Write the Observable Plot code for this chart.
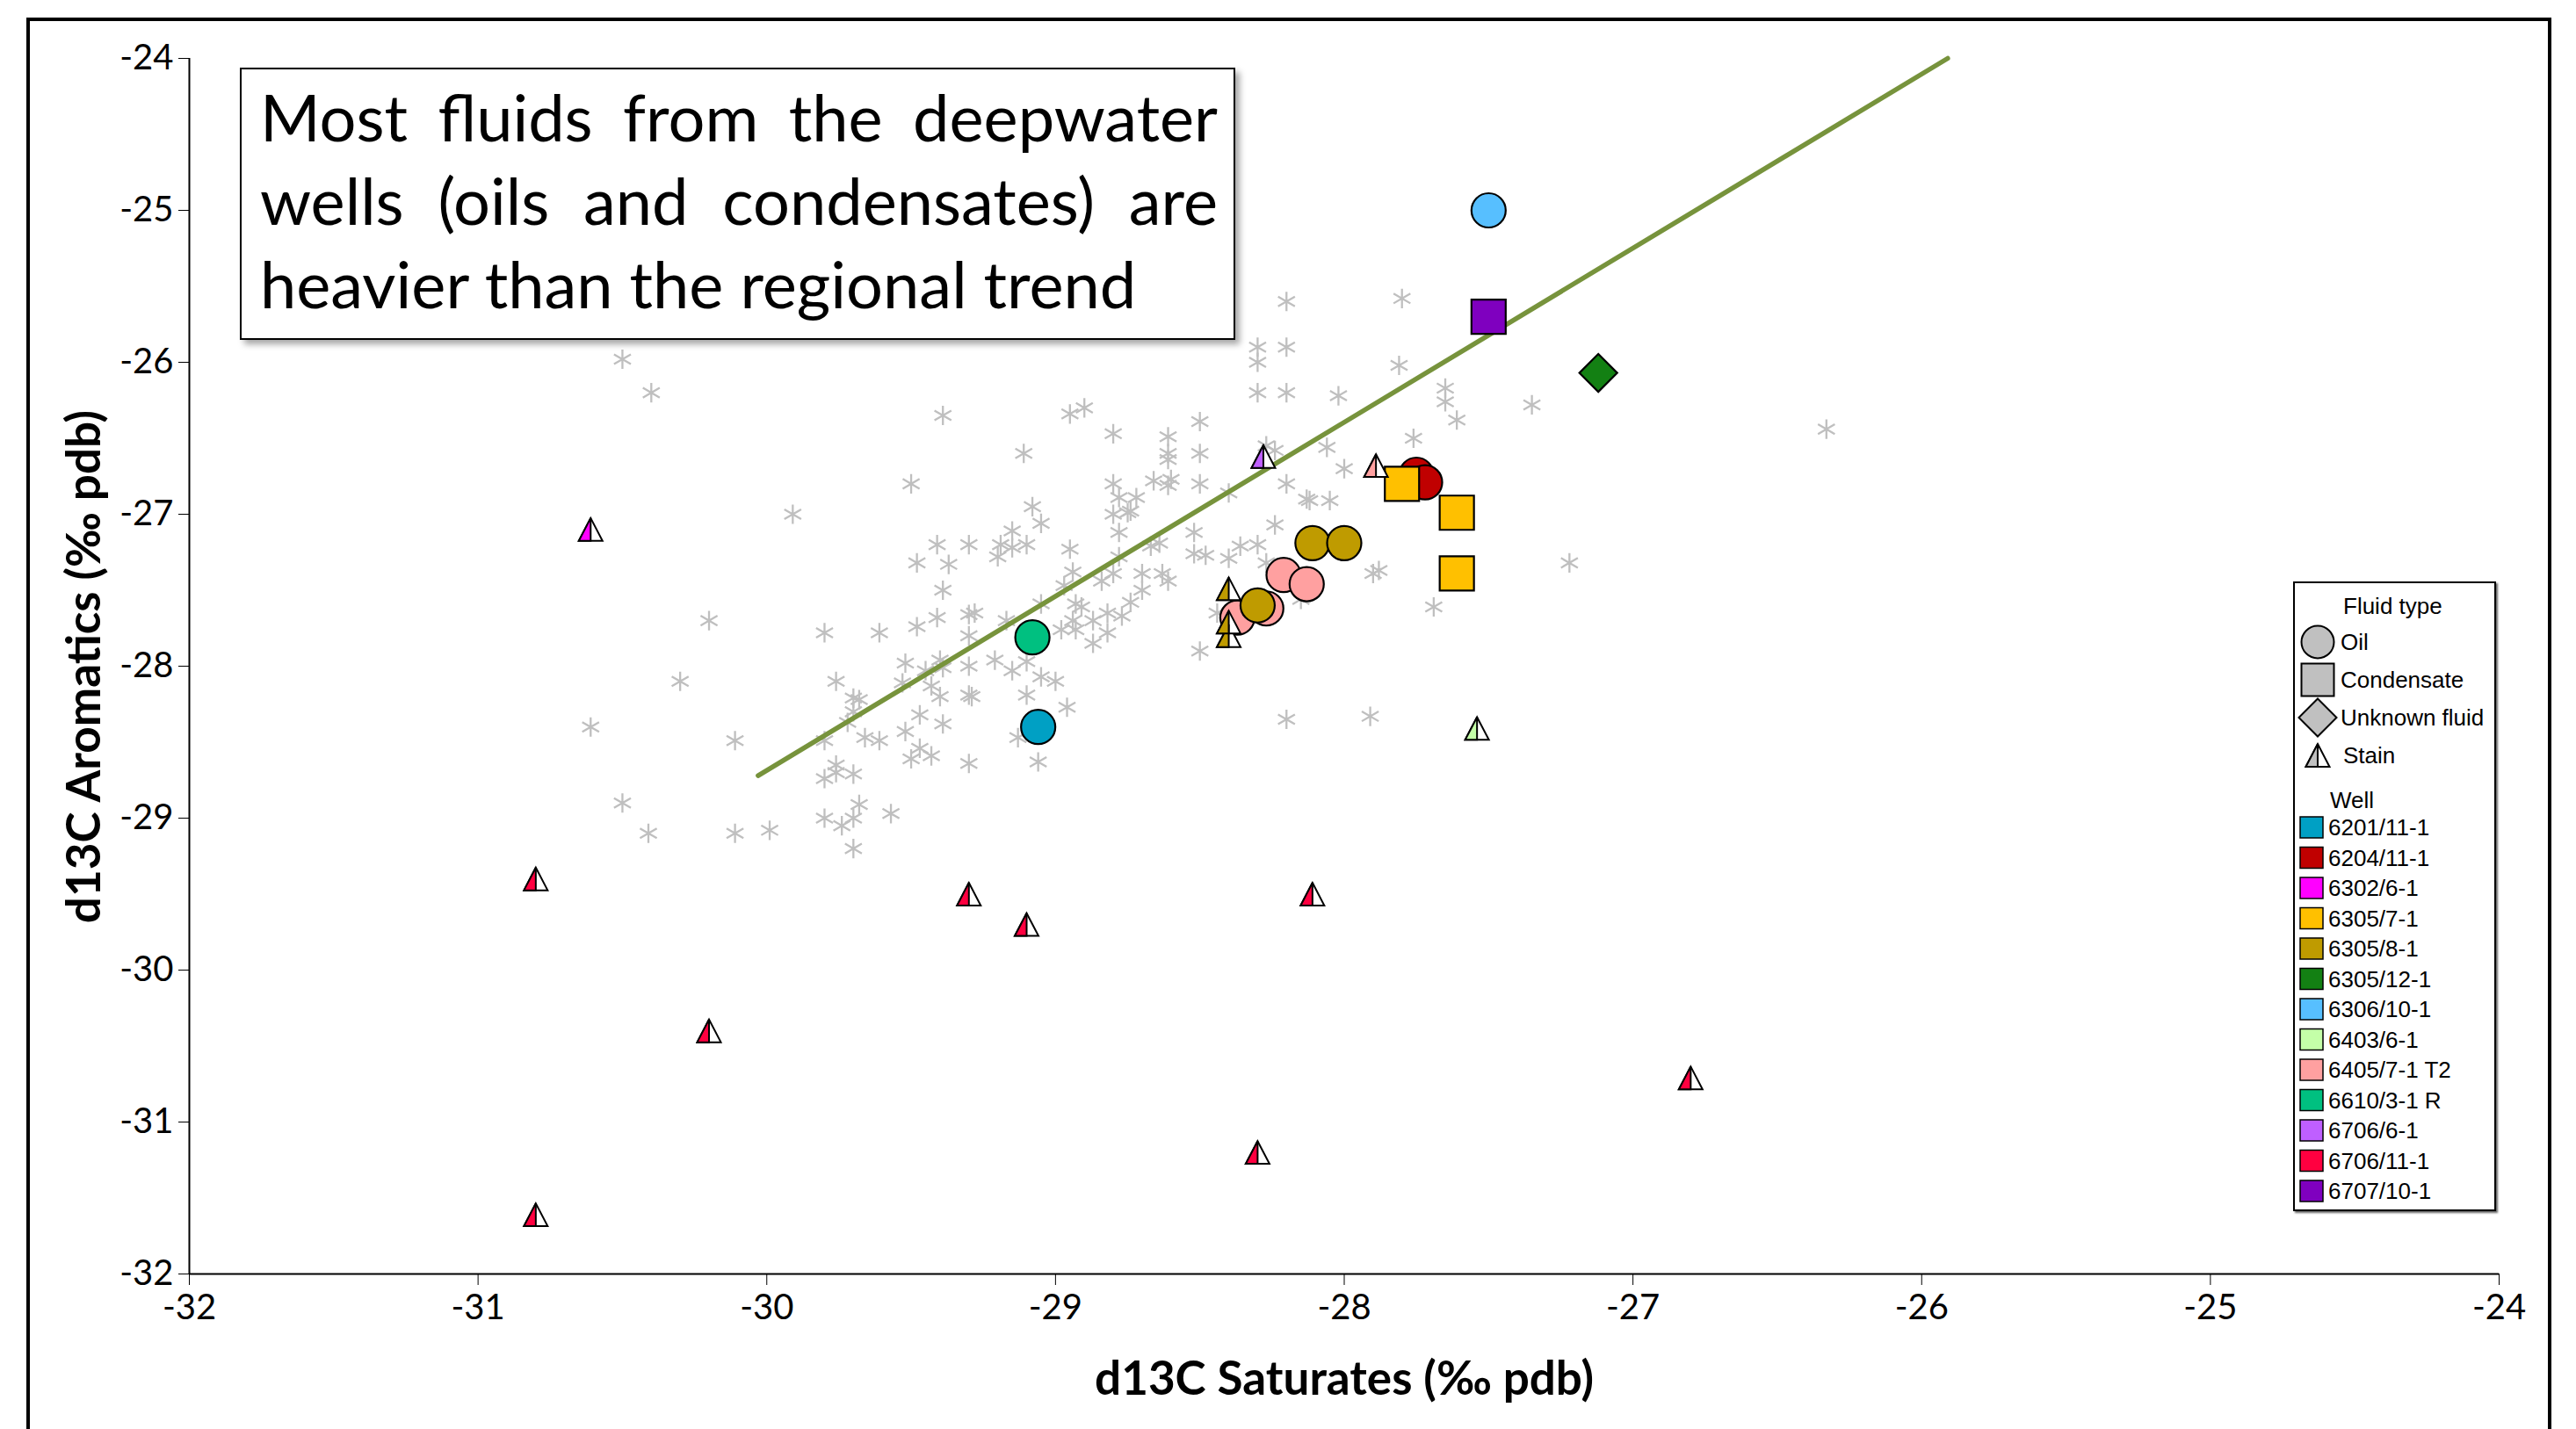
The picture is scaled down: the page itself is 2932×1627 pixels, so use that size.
<!DOCTYPE html>
<html>
<head>
<meta charset="utf-8">
<script src="https://cdn.jsdelivr.net/npm/d3@7"></script>
<script src="https://cdn.jsdelivr.net/npm/@observablehq/plot@0.6"></script>
<style>
  html, body { margin: 0; padding: 0; background: #fff; }
  body { width: 2932px; height: 1627px; position: relative; overflow: hidden; }
  #chart { position: absolute; left: 0; top: 0; }
  #frame {
    position: absolute; left: 30px; top: 20px; width: 2874px; height: 1720px;
    box-sizing: border-box; border: 4px solid #000; pointer-events: none;
  }
  #note {
    position: absolute; left: 273px; top: 77px; width: 1133px; height: 310px;
    box-sizing: border-box; border: 2.5px solid #000; background: #fff;
    box-shadow: 5px 5px 7px rgba(0,0,0,0.35);
    padding: 6px 18px 0 21px;
    font-family: Lato, "Open Sans", sans-serif; font-size: 74px; line-height: 95px; color: #000;
  }
  #note .j { text-align: justify; text-align-last: justify; white-space: nowrap; }
  #note .l { white-space: nowrap; }
  .axis-title {
    position: absolute; font-family: Lato, "Open Sans", sans-serif; font-weight: 700;
    font-size: 53px; color: #000; white-space: nowrap; transform: translate(-50%, -50%);
  }
  #legend {
    position: absolute; left: 2610px; top: 662px; width: 231px; height: 717px;
    box-sizing: border-box; border: 2px solid #000; background: #fff;
    box-shadow: 2px 2px 2px rgba(0,0,0,0.6);
  }
  #legend svg { position: absolute; left: -2px; top: -2px; overflow: visible; }
  #legend text { font-family: "Liberation Sans", Arial, sans-serif; font-size: 26px; fill: #000; }
</style>
</head>
<body>
<div id="chart"></div>
<div id="note">
  <div class="j">Most fluids from the deepwater</div>
  <div class="j">wells (oils and condensates) are</div>
  <div class="l">heavier than the regional trend</div>
</div>
<div class="axis-title" style="left:1530px; top:1567px;">d13C Saturates (‰ pdb)</div>
<div class="axis-title" style="left:93px; top:759px; transform: translate(-50%, -50%) rotate(-90deg);">d13C Aromatics (‰ pdb)</div>
<div id="legend"></div>
<div id="frame"></div>
<script>
// Axes
const xTicks = [-32, -31, -30, -29, -28, -27, -26, -25, -24];
const yTicks = [-32, -31, -30, -29, -28, -27, -26, -25, -24];

// Wells and their colours
const wellNames = ["6201/11-1", "6204/11-1", "6302/6-1", "6305/7-1", "6305/8-1", "6305/12-1",
  "6306/10-1", "6403/6-1", "6405/7-1 T2", "6610/3-1 R", "6706/6-1", "6706/11-1", "6707/10-1"];
const wellColors = ["#00A0C4", "#C00000", "#FF00FF", "#FFC000", "#BF9B00", "#138013",
  "#57BFFF", "#C4FFA8", "#FFA0A0", "#00C080", "#BF5FFF", "#FF0040", "#7F00BF"];
const fluidTypes = ["Oil", "Condensate", "Unknown fluid", "Stain"];

// Deepwater well fluids (drawing order)
const sampleWell = [
  "6201/11-1", "6204/11-1", "6204/11-1", "6306/10-1",
  "6405/7-1 T2", "6405/7-1 T2", "6405/7-1 T2", "6405/7-1 T2",
  "6305/8-1", "6305/8-1", "6305/8-1", "6610/3-1 R",
  "6305/7-1", "6305/7-1", "6305/7-1", "6707/10-1",
  "6305/12-1",
  "6302/6-1", "6305/8-1", "6305/8-1", "6305/8-1", "6403/6-1", "6405/7-1 T2", "6706/6-1",
  "6706/11-1", "6706/11-1", "6706/11-1", "6706/11-1", "6706/11-1", "6706/11-1", "6706/11-1", "6706/11-1"];
const sampleType = [
  "Oil", "Oil", "Oil", "Oil",
  "Oil", "Oil", "Oil", "Oil",
  "Oil", "Oil", "Oil", "Oil",
  "Condensate", "Condensate", "Condensate", "Condensate",
  "Unknown fluid",
  "Stain", "Stain", "Stain", "Stain", "Stain", "Stain", "Stain",
  "Stain", "Stain", "Stain", "Stain", "Stain", "Stain", "Stain", "Stain"];
const sampleSat = [
  -29.06, -27.75, -27.72, -27.50,
  -28.37, -28.27, -28.21, -28.13,
  -28.30, -28.11, -28.00, -29.08,
  -27.80, -27.61, -27.61, -27.50,
  -27.12,
  -30.61, -28.40, -28.40, -28.40, -27.54, -27.89, -28.28,
  -30.80, -29.30, -28.11, -29.10, -30.20, -26.80, -28.30, -30.80];
const sampleAro = [
  -28.40, -26.74, -26.79, -25.00,
  -27.68, -27.62, -27.40, -27.46,
  -27.60, -27.19, -27.19, -27.81,
  -26.80, -26.99, -27.39, -25.70,
  -26.07,
  -27.10, -27.80, -27.71, -27.49, -28.41, -26.68, -26.62,
  -29.40, -29.50, -29.50, -29.70, -30.40, -30.71, -31.20, -31.61];

// Regional dataset (grey asterisks)
const regionalSat = [
  -30.50, -30.40, -29.39, -29.50, -29.91, -29.11, -29.15, -29.41, -29.30, -29.19,
  -29.15, -29.20, -29.48, -29.37, -29.39, -29.41, -29.48, -29.61, -29.80, -30.20,
  -29.30, -29.28, -29.30, -29.17, -29.52, -29.40, -29.45, -29.39, -29.30, -29.21,
  -29.15, -29.53, -29.76, -29.43, -29.40, -29.30, -29.29, -29.70, -29.68, -29.70,
  -29.47, -29.39, -29.72, -29.52, -29.66, -29.61, -29.80, -30.11, -30.30, -30.61,
  -29.47, -29.43, -29.50, -29.30, -29.76, -29.76, -29.70, -29.80, -30.50, -30.41,
  -30.11, -29.99, -29.80, -29.74, -29.70, -29.68, -29.57, -29.70, -29.13,
  -28.94, -28.97, -29.05, -28.84, -28.80, -28.70, -28.70, -28.63, -28.61, -28.93,
  -28.91, -28.94, -28.93, -28.98, -28.87, -28.82, -28.77, -28.74, -28.82, -28.87,
  -29.05, -29.00, -28.96, -29.06, -29.10, -29.10, -28.50, -28.44, -27.90, -27.88,
  -27.69, -28.20, -27.91, -28.15,
  -28.20, -27.80, -28.30, -28.20, -28.30, -28.30, -28.20, -27.81, -28.02, -27.65,
  -27.65, -27.61, -27.76, -28.06, -28.00, -28.24, -28.27, -28.20, -28.13, -28.12,
  -28.05, -28.24, -28.30, -28.36, -28.40, -28.50, -28.50, -28.50, -28.61, -28.61,
  -28.61, -28.60, -28.61, -28.66, -28.80, -28.95, -28.90, -28.80, -28.78, -28.72,
  -28.80, -28.75, -28.74, -28.78, -29.08, -29.05, -29.10, -28.95, -28.67, -28.64,
  -28.52, -28.52, -28.48, -28.40, -28.78, -28.27,
  -27.35, -26.33, -27.22];
const regionalAro = [
  -25.98, -26.20, -26.35, -26.80, -27.00, -26.60, -27.11, -27.20, -27.20, -27.20,
  -27.22, -27.28, -27.32, -27.33, -27.50, -27.68, -27.74, -27.78, -27.78, -27.70,
  -27.66, -27.65, -27.80, -27.70, -27.98, -27.96, -28.03, -28.01, -28.00, -27.96,
  -28.03, -28.11, -28.10, -28.13, -28.20, -28.19, -28.20, -28.21, -28.22, -28.30,
  -28.32, -28.38, -28.37, -28.43, -28.47, -28.49, -28.49, -28.49, -28.10, -28.40,
  -28.54, -28.59, -28.61, -28.64, -28.65, -28.70, -28.71, -28.74, -28.90, -29.10,
  -29.10, -29.08, -29.00, -29.05, -29.00, -28.91, -28.97, -29.20, -28.47,
  -27.38, -27.47, -27.59, -27.44, -27.39, -27.39, -27.50, -27.39, -27.44, -27.59,
  -27.61, -27.70, -27.76, -27.76, -27.70, -27.65, -27.67, -27.58, -27.78, -27.85,
  -28.07, -28.10, -28.27, -28.63, -27.97, -28.19, -27.90, -27.65, -27.39, -27.37,
  -27.61, -28.35, -28.33, -27.56,
  -25.60, -25.58, -25.90, -25.90, -26.00, -26.20, -26.20, -26.02, -26.22, -26.17,
  -26.26, -26.38, -26.50, -26.56, -26.70, -26.58, -26.55, -26.80, -26.90, -26.91,
  -26.91, -27.07, -27.20, -27.21, -26.86, -26.39, -26.60, -26.80, -26.49, -26.60,
  -26.64, -26.77, -26.81, -26.78, -26.47, -26.34, -26.30, -26.80, -26.89, -26.89,
  -27.00, -26.99, -26.98, -27.12, -26.95, -27.06, -27.20, -27.23, -27.21, -27.19,
  -27.12, -27.26, -27.27, -27.29, -27.28, -27.32,
  -26.28, -26.44, -27.32];

// Regional trend line end points
const trendSat = [-30.03, -25.91];
const trendAro = [-28.72, -24.00];

const colorOf = new Map(wellNames.map((w, i) => [w, wellColors[i]]));
const samples = sampleSat.map((x, i) => ({sat: x, aro: sampleAro[i], well: sampleWell[i], type: sampleType[i]}));
const regional = regionalSat.map((x, i) => ({sat: x, aro: regionalAro[i]}));
const trend = trendSat.map((x, i) => ({sat: x, aro: trendAro[i]}));
const ofType = t => samples.filter(d => d.type === t);

// Stain marker: a narrow triangle whose left half carries the well colour
const triangleFull = {
  draw(ctx, size) {
    const s = Math.sqrt(size);
    ctx.moveTo(0, -s * 0.48); ctx.lineTo(s * 0.5, s * 0.48); ctx.lineTo(-s * 0.5, s * 0.48); ctx.closePath();
  }
};
const triangleLeft = {
  draw(ctx, size) {
    const s = Math.sqrt(size);
    ctx.moveTo(0, -s * 0.48); ctx.lineTo(0, s * 0.48); ctx.lineTo(-s * 0.5, s * 0.48); ctx.closePath();
  }
};

const outline = {stroke: "#000", strokeWidth: 2.2};
const plot = Plot.plot({
  width: 2932,
  height: 1627,
  marginLeft: 215,
  marginRight: 88,
  marginTop: 66,
  marginBottom: 177,
  style: {fontFamily: "Lato, 'Open Sans', sans-serif", fontSize: "40px", color: "#000", background: "transparent", overflow: "visible"},
  x: {domain: [xTicks[0], xTicks[xTicks.length - 1]], ticks: xTicks, tickSize: 13, tickPadding: 10, tickFormat: d => String(d), label: null},
  y: {domain: [yTicks[0], yTicks[yTicks.length - 1]], ticks: yTicks, tickSize: 12, tickPadding: 6, tickFormat: d => String(d), label: null},
  color: {type: "identity"},
  marks: [
    Plot.dot(regional, {x: "sat", y: "aro", symbol: "asterisk", r: 10.5, stroke: "#BFBFBF", strokeWidth: 2.3}),
    Plot.line(trend, {x: "sat", y: "aro", stroke: "#77933C", strokeWidth: 5.5}),
    Plot.ruleY([yTicks[0]], {stroke: "#000", strokeWidth: 2}),
    Plot.ruleX([xTicks[0]], {stroke: "#000", strokeWidth: 2}),
    Plot.dot(ofType("Oil"), {x: "sat", y: "aro", r: 19.5, fill: d => colorOf.get(d.well), ...outline}),
    Plot.dot(ofType("Condensate"), {x: "sat", y: "aro", symbol: "square", r: 22, fill: d => colorOf.get(d.well), ...outline}),
    Plot.dot(ofType("Unknown fluid"), {x: "sat", y: "aro", symbol: "diamond2", r: 19.4, fill: d => colorOf.get(d.well), ...outline}),
    Plot.dot(ofType("Stain"), {x: "sat", y: "aro", symbol: triangleFull, r: 15.2, fill: "#fff", stroke: "#000", strokeWidth: 2, strokeLinejoin: "miter"}),
    Plot.dot(ofType("Stain"), {x: "sat", y: "aro", symbol: triangleLeft, r: 15.2, fill: d => colorOf.get(d.well), stroke: "#000", strokeWidth: 2, strokeLinejoin: "miter"})
  ]
});
document.getElementById("chart").appendChild(plot);

// Keep the justified note lines inside the box
(function fitNote() {
  const note = document.getElementById("note");
  const avail = note.clientWidth - 21 - 18;
  let widest = 0;
  note.querySelectorAll("div").forEach(div => {
    const span = document.createElement("span");
    span.textContent = div.textContent;
    span.style.whiteSpace = "nowrap";
    div.textContent = "";
    div.appendChild(span);
    widest = Math.max(widest, span.getBoundingClientRect().width);
    div.textContent = span.textContent;
  });
  if (widest > avail) {
    const fs = parseFloat(getComputedStyle(note).fontSize);
    note.style.fontSize = (fs * avail / widest) + "px";
  }
})();

// Legend: fluid type symbols, then well colour swatches
(function drawLegend() {
  const svg = d3.select("#legend").append("svg").attr("width", 231).attr("height", 717);
  const grey = "#C0C0C0";
  svg.append("text").attr("x", 57).attr("y", 28).attr("dy", "0.35em").text("Fluid type");
  const rows = [
    {type: fluidTypes[0], y: 69, sym: d3.symbolCircle, size: Math.PI * 18.5 * 18.5},
    {type: fluidTypes[1], y: 112, sym: d3.symbolSquare, size: 37 * 37},
    {type: fluidTypes[2], y: 155, sym: d3.symbolDiamond2, size: Math.pow(21.5 / 0.62625, 2)},
    {type: fluidTypes[3], y: 198, sym: null}
  ];
  rows.forEach(r => {
    const g = svg.append("g").attr("transform", `translate(28,${r.y})`);
    if (r.sym) {
      g.append("path").attr("d", d3.symbol(r.sym, r.size)()).attr("fill", grey).attr("stroke", "#000").attr("stroke-width", 2);
    } else {
      const s = 27;
      g.append("path").attr("d", d3.symbol(triangleFull, s * s)()).attr("fill", "#fff").attr("stroke", "#000").attr("stroke-width", 2);
      g.append("path").attr("d", d3.symbol(triangleLeft, s * s)()).attr("fill", grey).attr("stroke", "#000").attr("stroke-width", 2);
    }
    svg.append("text").attr("x", r.sym ? 54 : 57).attr("y", r.y).attr("dy", "0.35em").text(r.type);
  });
  svg.append("text").attr("x", 42).attr("y", 249).attr("dy", "0.35em").text("Well");
  wellNames.forEach((w, i) => {
    const cy = 280 + i * 34.5;
    svg.append("rect").attr("x", 8).attr("y", cy - 12).attr("width", 26).attr("height", 24)
      .attr("fill", wellColors[i]).attr("stroke", "#000").attr("stroke-width", 1.5);
    svg.append("text").attr("x", 40).attr("y", cy).attr("dy", "0.35em").text(w);
  });
})();
</script>
</body>
</html>
